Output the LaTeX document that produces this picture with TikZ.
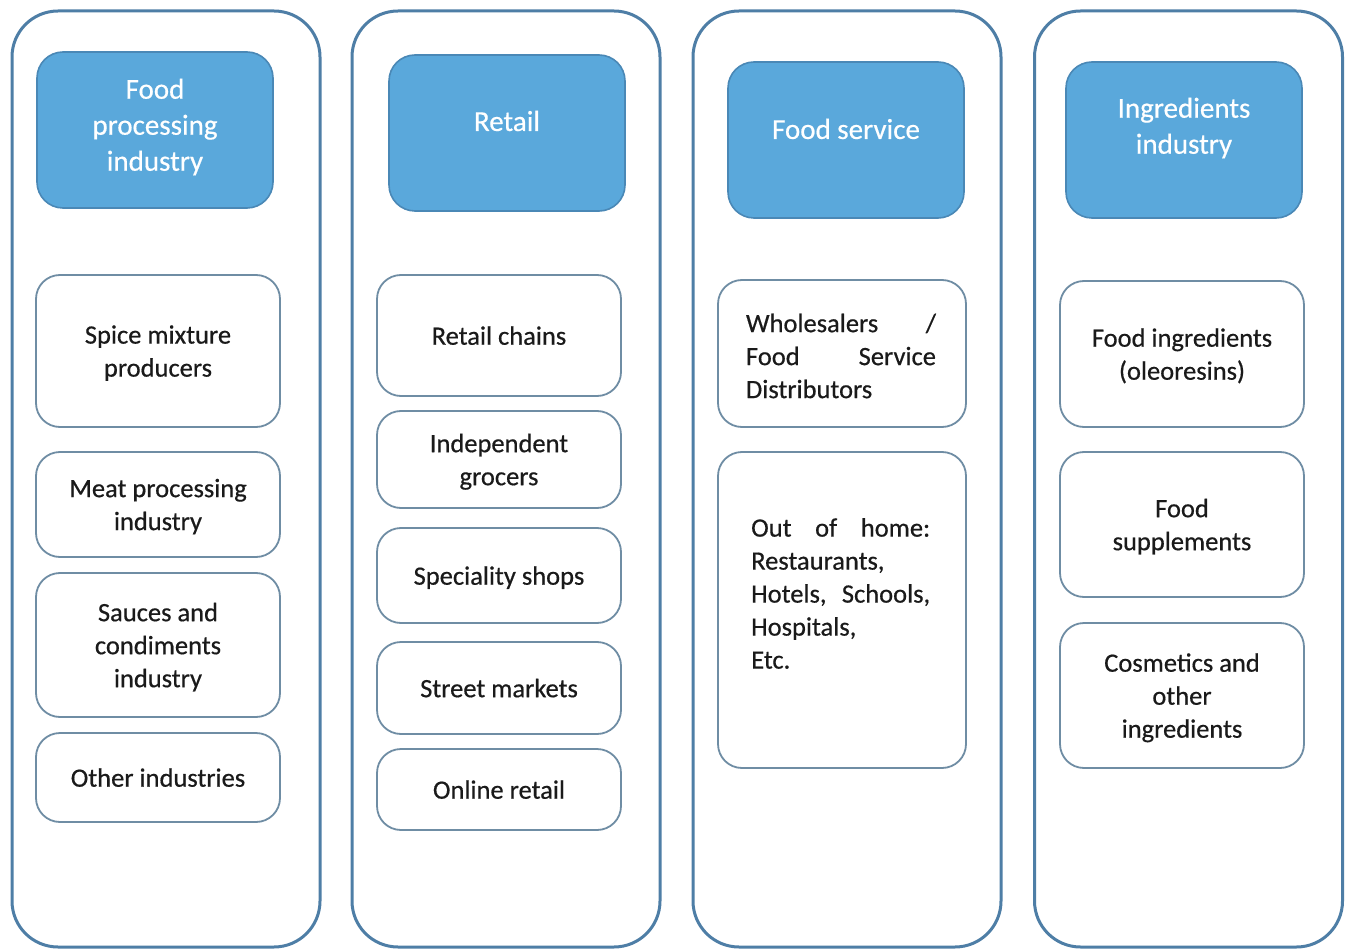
\documentclass[tikz,border=0pt]{standalone}
\usepackage{fontspec}
\setmainfont{Carlito}[FakeBold=0.5]
\newfontfamily\boxfont{Carlito}[FakeBold=0.5]
\definecolor{colframe}{HTML}{4E7EA6}
\definecolor{headfill}{HTML}{5AA8DB}
\definecolor{headline}{HTML}{4A88B6}
\definecolor{subline}{HTML}{6F8DA4}
\definecolor{bodytext}{HTML}{1A1A1A}
\begin{document}
\begin{tikzpicture}[x=1pt,y=-1pt,
  column/.style={draw=colframe,line width=3pt,rounded corners=46pt,fill=white,
    minimum width=308pt,minimum height=936pt,inner sep=0pt},
  headbox/.style={draw=headline,line width=1.6pt,fill=headfill,rounded corners=26pt,
    minimum width=236pt,minimum height=156pt,inner sep=0pt},
  headtext/.style={text=white,align=center,font=\boxfont\fontsize{29}{36}\selectfont,inner sep=0pt},
  subbox/.style={draw=subline,line width=1.8pt,fill=white,rounded corners=24pt,
    minimum width=244pt,inner sep=0pt,text=bodytext,align=center,
    font=\boxfont\fontsize{26.5}{33}\selectfont,text depth=0pt},
  bodytxt/.style={text=bodytext,align=left,inner sep=0pt,font=\boxfont\fontsize{26.5}{33}\selectfont}
]
\useasboundingbox (0,0) rectangle (1346,949);

% four columns
\node[column] (c1) at (166,479) {};
\node[column] (c2) at (506,479) {};
\node[column] (c3) at (847,479) {};
\node[column] (c4) at (1188.5,479) {};

% headers
\node[headbox] (h1) at (155,130) {};
\node[headbox] (h2) at (507,133) {};
\node[headbox] (h3) at (846,140) {};
\node[headbox] (h4) at (1184,140) {};
\node[headtext] (h1t) at (155,127) {Food\\processing\\industry};
\node[headtext] (h2t) at (507,121) {Retail};
\node[headtext] (h3t) at (846,129) {Food service};
\node[headtext] (h4t) at (1184,128) {Ingredients\\industry};

% food processing industry
\node[subbox,minimum height=152pt] (a1) at (158,351) {Spice mixture\\producers};
\node[subbox,minimum height=105pt] (a2) at (158,504.5) {Meat processing\\industry};
\node[subbox,minimum height=144pt] (a3) at (158,645) {Sauces and\\condiments\\industry};
\node[subbox,minimum height=89pt] (a4) at (158,777.5) {Other industries};

% retail
\node[subbox,minimum height=121pt] (b1) at (499,335.5) {Retail chains};
\node[subbox,minimum height=97pt] (b2) at (499,459.5) {Independent\\grocers};
\node[subbox,minimum height=95pt] (b3) at (499,575.5) {Speciality shops};
\node[subbox,minimum height=92pt] (b4) at (499,688) {Street markets};
\node[subbox,minimum height=81pt] (b5) at (499,789.5) {Online retail};

% food service
\node[subbox,minimum width=248pt,minimum height=147pt] (s1) at (842,353.5) {};
\node[bodytxt] (s1t) at (841,356)
  {\hbox to 190pt{Wholesalers\hfil/}\\\hbox to 190pt{Food\hfil Service}\\Distributors};
\node[subbox,minimum width=248pt,minimum height=316pt] (s2) at (842,610) {};
\node[bodytxt,anchor=north west] (s2t) at (751,518)
  {\hbox to 179pt{Out\hfil of\hfil home:}\\Restaurants,\\\hbox to 179pt{Hotels,\hfil Schools,}\\Hospitals,\\Etc.};

% ingredients industry
\node[subbox,minimum height=146pt] (d1) at (1182,354) {Food ingredients\\(oleoresins)};
\node[subbox,minimum height=145pt] (d2) at (1182,524.5) {Food\\supplements};
\node[subbox,minimum height=145pt] (d3) at (1182,695.5) {Cosmetics and\\other\\ingredients};
\end{tikzpicture}
\end{document}
